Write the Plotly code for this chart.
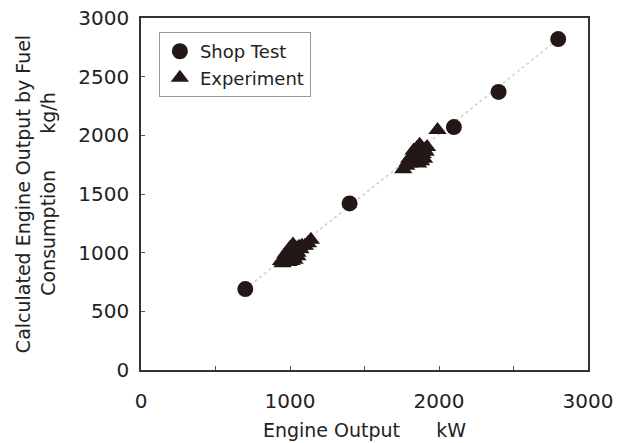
import plotly.graph_objects as go

shop_x = [700, 1400, 2100, 2400, 2800]
shop_y = [690, 1420, 2070, 2370, 2820]

exp_x = [940, 960, 980, 990, 1000, 1010, 1020, 1030, 1040, 1050, 1060, 1070, 1080,
         1000, 970, 1020, 1140, 1120, 1100, 990, 1010, 1050, 950, 1030,
         1760, 1780, 1800, 1810, 1820, 1840, 1850, 1860, 1870, 1880, 1890, 1900,
         1910, 1920, 1860, 1880, 1900, 1990, 1830, 1850, 1870, 1800, 1790]
exp_y = [930, 950, 960, 940, 980, 1000, 960, 1010, 1040, 1000, 1050, 1030, 1060,
         1040, 990, 1070, 1110, 1080, 1060, 920, 930, 970, 910, 940,
         1710, 1740, 1760, 1800, 1830, 1790, 1850, 1820, 1870, 1900, 1840, 1880,
         1860, 1900, 1760, 1780, 1800, 2045, 1870, 1890, 1920, 1800, 1770]

line_x = [700, 2800]
line_y = [690, 2820]

ink = "#231815"
font_family = "DejaVu Sans, sans-serif"

fig = go.Figure()
fig.add_trace(go.Scatter(x=line_x, y=line_y, mode="lines", showlegend=False,
                         line=dict(color="#d0d0d0", width=1.5, dash="dot"),
                         hoverinfo="skip"))
fig.add_trace(go.Scatter(x=shop_x, y=shop_y, mode="markers", name="Shop Test",
                         marker=dict(symbol="circle", size=16, color=ink)))
fig.add_trace(go.Scatter(x=exp_x, y=exp_y, mode="markers", name="Experiment",
                         marker=dict(symbol="triangle-up", size=16, color=ink)))

fig.update_layout(
    width=617, height=443,
    margin=dict(l=141, r=29, t=18, b=73),
    plot_bgcolor="white", paper_bgcolor="white",
    font=dict(family=font_family, color="#222222"),
    legend=dict(x=0.04, y=0.96, xanchor="left", yanchor="top",
                bgcolor="white", bordercolor="#999999", borderwidth=1,
                font=dict(size=18, color="#222222"),
                itemwidth=30, tracegroupgap=2),
    xaxis=dict(range=[0, 3000], dtick=1000, tick0=0, showgrid=False, zeroline=False,
               automargin=False,
               showline=True, linecolor="#333333", linewidth=1.5, mirror=True,
               ticks="inside", ticklen=4, tickcolor="#555555",
               minor=dict(dtick=500, ticks="inside", ticklen=4, tickcolor="#555555"),
               tickfont=dict(size=20), ticklabelstandoff=12,
               title=dict(text="Engine Output      kW", font=dict(size=19), standoff=12)),
    yaxis=dict(range=[0, 3000], dtick=500, tick0=0, showgrid=False, zeroline=False,
               automargin=False,
               showline=True, linecolor="#333333", linewidth=1.5, mirror=True,
               ticks="inside", ticklen=4, tickcolor="#555555",
               tickfont=dict(size=20), ticklabelstandoff=6,
               title=dict(text="Calculated Engine Output by Fuel<br>Consumption      kg/h",
                          font=dict(size=19), standoff=18)),
)

fig.write_html("out.html")
